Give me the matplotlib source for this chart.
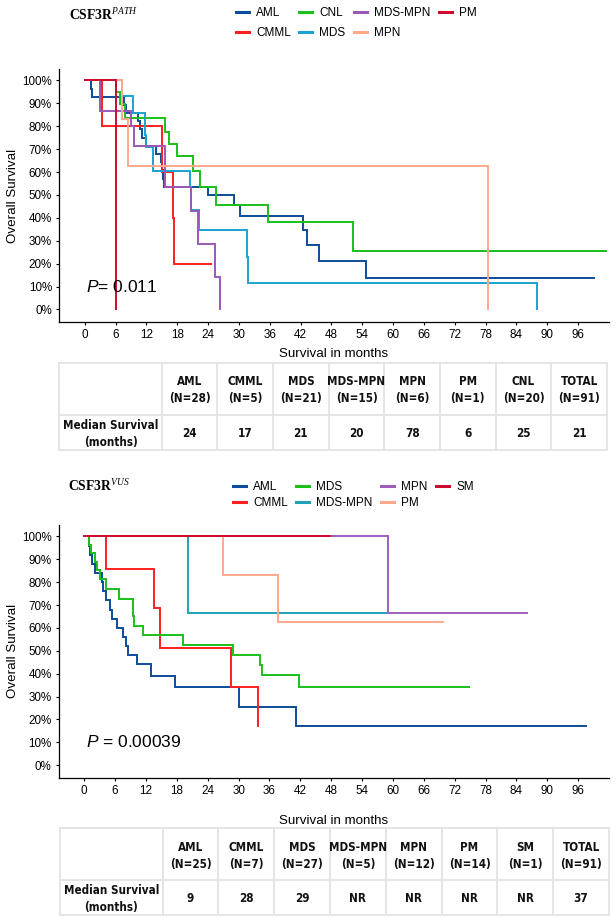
import matplotlib as mpl
mpl.use('Agg')
import matplotlib.pyplot as plt
from matplotlib.lines import Line2D
import numpy as np

plt.rcParams['font.family'] = ['Liberation Sans', 'DejaVu Sans']
plt.rcParams['mathtext.fontset'] = 'custom'
plt.rcParams['mathtext.rm'] = 'Liberation Sans'
plt.rcParams['mathtext.it'] = 'Liberation Sans:italic'
plt.rcParams['mathtext.bf'] = 'Liberation Serif:bold'
plt.rcParams['mathtext.sf'] = 'Liberation Serif:italic'

W, H = 616, 924
TABLE_FONT = ['DejaVu Sans']

# ---------------- CSF3R PATH ----------------
path_groups = ['AML', 'CMML', 'CNL', 'MDS', 'MDS-MPN', 'MPN', 'PM']
path_colors = ['#0C4C9A', '#FF1F1F', '#19C019', '#1AA3D1', '#9B59B6', '#FFA98A', '#CC0A2F']

aml_path_t = [0, 1.2, 1.5, 7.7, 8.1, 10.4, 10.8, 11.2, 12.0, 13.8, 14.8, 15.0, 15.2, 15.5,
              23.9, 29.0, 30.2, 42.5, 43.3, 45.5, 54.8, 99.0]
aml_path_s = [1, .964, .929, .893, .857, .821, .786, .750, .714, .679, .643, .607, .571, .536,
              .498, .454, .406, .348, .28, .21, .137, .137]
cmml_path_t = [0, 3.4, 15.0, 17.2, 17.4, 24.5]
cmml_path_s = [1, .8, .6, .4, .2, .2]
cnl_path_t = [0, 6.0, 6.8, 7.8, 15.7, 16.4, 17.9, 21.0, 22.4, 25.5, 35.7, 52.1, 101.4]
cnl_path_s = [1, .95, .895, .836, .777, .722, .668, .603, .534, .457, .38, .253, .253]
mds_path_t = [0, 7.3, 9.4, 11.7, 11.9, 13.2, 20.5, 20.7, 22.2, 31.5, 31.7, 88.0]
mds_path_s = [1, .93, .857, .762, .71, .605, .535, .435, .348, .23, .115, 0]
mdsmpn_path_t = [0, 2.9, 9.1, 9.5, 15.6, 20.6, 22.1, 25.4, 26.3]
mdsmpn_path_s = [1, .867, .8, .714, .536, .428, .285, .143, 0]
mpn_path_t = [0, 7.2, 8.4, 78.5]
mpn_path_s = [1, .833, .625, 0]
pm_path_t = [0, 6.0]
pm_path_s = [1, 0]

path_tab_cols = ['AML', 'CMML', 'MDS', 'MDS-MPN', 'MPN', 'PM', 'CNL', 'TOTAL']
path_tab_n = [28, 5, 21, 15, 6, 1, 20, 91]
path_tab_median = ['24', '17', '21', '20', '78', '6', '25', '21']

# ---------------- CSF3R VUS ----------------
vus_groups = ['AML', 'CMML', 'MDS', 'MDS-MPN', 'MPN', 'PM', 'SM']
vus_colors = ['#0C4C9A', '#FF1F1F', '#19C019', '#1FA2B6', '#A060BA', '#FFA98A', '#CC0A2F']

aml_vus_t = [0, 1.0, 1.2, 1.6, 2.1, 3.4, 3.7, 4.3, 5.0, 5.4, 6.3, 7.5, 8.2, 8.5, 10.3, 12.9,
             17.7, 30.1, 41.2, 97.6]
aml_vus_s = [1, .96, .92, .88, .84, .80, .76, .72, .68, .64, .60, .56, .52, .48, .44, .39,
             .342, .256, .171, .171]
cmml_vus_t = [0, 4.2, 13.6, 14.7, 28.5, 33.8]
cmml_vus_s = [1, .857, .686, .514, .343, .171]
mds_vus_t = [0, 1.0, 1.4, 2.0, 2.5, 3.1, 4.2, 6.7, 9.4, 9.5, 9.7, 11.5, 19.2, 29.0, 34.2, 34.6,
             41.8, 74.8]
mds_vus_s = [1, .963, .926, .889, .852, .815, .772, .728, .69, .65, .608, .568, .525, .48,
             .436, .392, .343, .343]
mdsmpn_vus_t = [0, 20.2, 59.1]
mdsmpn_vus_s = [1, .667, .667]
mpn_vus_t = [0, 59.1, 86.1]
mpn_vus_s = [1, .667, .667]
pm_vus_t = [0, 27.0, 37.7, 69.7]
pm_vus_s = [1, .833, .625, .625]
sm_vus_t = [0, 47.8]
sm_vus_s = [1, 1]

vus_tab_cols = ['AML', 'CMML', 'MDS', 'MDS-MPN', 'MPN', 'PM', 'SM', 'TOTAL']
vus_tab_n = [25, 7, 27, 5, 12, 14, 1, 91]
vus_tab_median = ['9', '28', '29', 'NR', 'NR', 'NR', 'NR', '37']

x_ticks = list(range(0, 97, 6))
y_ticks = [i / 10 for i in range(11)]


def box(x0, y0, x1, y1):
    return [x0 / W, 1 - y1 / H, (x1 - x0) / W, (y1 - y0) / H]


def km_panel(rect, curves, colors, pval_text, labelpad):
    ax = fig.add_axes(rect)
    for (t, s), c in zip(curves, colors):
        ax.step(t, s, where='post', color=c, lw=1.4, solid_joinstyle='miter')
    ax.set_xlim(-5, 102)
    ax.set_ylim(-0.055, 1.05)
    ax.set_xticks(x_ticks)
    ax.set_yticks(y_ticks)
    ax.set_yticklabels([f'{int(round(v * 100))}%' for v in y_ticks])
    ax.tick_params(labelsize=8.4, length=2.5, width=0.8, pad=2.5, colors='black')
    for side in ['top', 'right']:
        ax.spines[side].set_visible(False)
    for side in ['left', 'bottom']:
        ax.spines[side].set_linewidth(0.9)
    ax.set_ylabel('Overall Survival', fontsize=9.6)
    ax.yaxis.set_label_coords(-0.072, 0.5)
    ax.set_xlabel('Survival in months', fontsize=9.6, labelpad=labelpad)
    ax.text(0.3, 0.1, pval_text, fontsize=12.5, va='center', ha='left')
    return ax


def draw_table(rect, cols, ns, meds):
    ax = fig.add_axes(rect)
    ax.set_xlim(0, 1)
    ax.set_ylim(1, 0)
    ax.axis('off')
    first_w = 0.187
    col_w = (1 - first_w) / len(cols)
    head = 0.6
    gc = '#E3E3E3'
    xs = [0] + [first_w + i * col_w for i in range(len(cols) + 1)]
    for x in xs:
        ax.plot([x, x], [0, 1], color=gc, lw=1.3, clip_on=False)
    for y in [0, head, 1]:
        ax.plot([0, 1], [y, y], color=gc, lw=1.3, clip_on=False)
    kw = dict(family=TABLE_FONT, fontweight='bold', fontstretch='condensed', fontsize=8.4,
              ha='center', va='center', color='#111111')
    for i, (c, n, m) in enumerate(zip(cols, ns, meds)):
        xc = first_w + (i + 0.5) * col_w
        ax.text(xc, 0.22, c, **kw)
        ax.text(xc, 0.415, f'(N={n})', **kw)
        ax.text(xc, 0.81, m, **kw)
    ax.text(first_w / 2, 0.715, 'Median Survival', **kw)
    ax.text(first_w / 2, 0.915, '(months)', **kw)


def legend(labels, colors, x, y, spacing):
    handles = [Line2D([], [], color=c, lw=2.2) for c in colors]
    fig.legend(handles, labels, ncol=4, loc='upper left', bbox_to_anchor=(x / W, 1 - y / H),
               frameon=False, fontsize=8.5, handlelength=1.1, handletextpad=0.6,
               columnspacing=0.72, labelspacing=spacing, borderpad=0, borderaxespad=0)


fig = plt.figure(figsize=(W / 100, H / 100), dpi=100)

path_curves = [(aml_path_t, aml_path_s), (cmml_path_t, cmml_path_s), (cnl_path_t, cnl_path_s),
               (mds_path_t, mds_path_s), (mdsmpn_path_t, mdsmpn_path_s),
               (mpn_path_t, mpn_path_s), (pm_path_t, pm_path_s)]
km_panel(box(59, 69, 609, 322), path_curves, path_colors, r'$\mathit{P}$= 0.011', 5)
legend(path_groups, path_colors, 236, 7, 0.7)
fig.text(69 / W, 1 - 14.5 / H, r'$\mathbf{CSF3R}^{\mathsf{PATH}}$', fontsize=9.8,
         va='center', ha='left')
draw_table(box(59.3, 362.7, 607, 450), path_tab_cols, path_tab_n, path_tab_median)

vus_curves = [(aml_vus_t, aml_vus_s), (cmml_vus_t, cmml_vus_s), (mds_vus_t, mds_vus_s),
              (mdsmpn_vus_t, mdsmpn_vus_s), (mpn_vus_t, mpn_vus_s),
              (pm_vus_t, pm_vus_s), (sm_vus_t, sm_vus_s)]
km_panel(box(58.5, 525, 609, 777.7), vus_curves, vus_colors, r'$\mathit{P}$ = 0.00039', 13)
legend(vus_groups, vus_colors, 233, 481, 0.38)
fig.text(68 / W, 1 - 486 / H, r'$\mathbf{CSF3R}^{\mathsf{VUS}}$', fontsize=9.8,
         va='center', ha='left')
draw_table(box(60, 828.3, 609, 915), vus_tab_cols, vus_tab_n, vus_tab_median)

fig.savefig('out.png', dpi=100)
